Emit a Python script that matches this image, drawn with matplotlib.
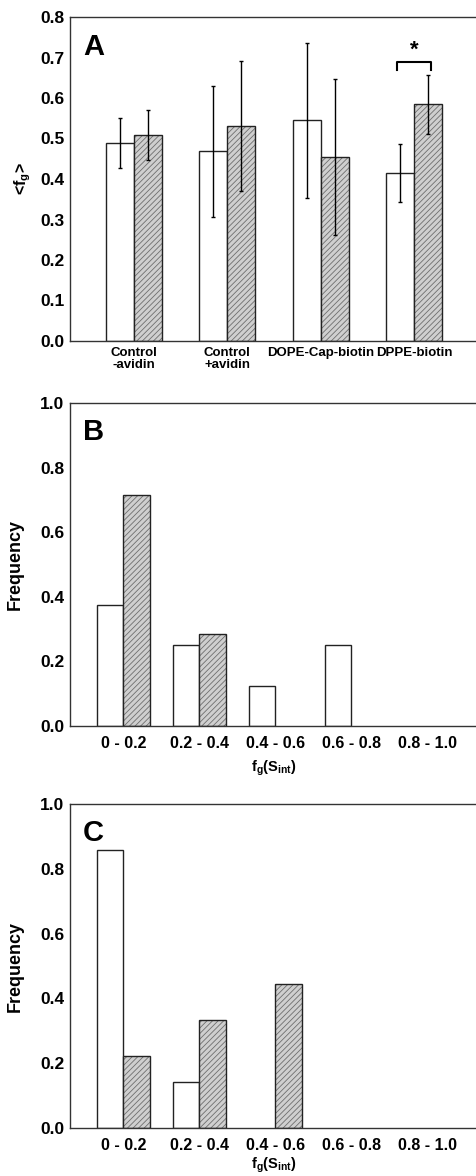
import numpy as np
import matplotlib
matplotlib.use("Agg")
import matplotlib.pyplot as plt

plt.rcParams['font.family'] = ['Liberation Sans', 'DejaVu Sans']
plt.rcParams['font.weight'] = 'bold'
plt.rcParams['axes.labelweight'] = 'bold'
plt.rcParams['mathtext.fontset'] = 'custom'
plt.rcParams['mathtext.rm'] = 'Liberation Sans:bold'
plt.rcParams['mathtext.it'] = 'Liberation Sans:bold'
plt.rcParams['mathtext.bf'] = 'Liberation Sans:bold'
plt.rcParams['hatch.linewidth'] = 0.6

# Panel A data
groups_a = ["Control\n-avidin", "Control\n+avidin", "DOPE-Cap-biotin", "DPPE-biotin"]
open_a = [0.489, 0.468, 0.545, 0.414]
open_err_a = [0.061, 0.161, 0.192, 0.072]
hatch_a = [0.509, 0.531, 0.455, 0.584]
hatch_err_a = [0.061, 0.160, 0.193, 0.073]

# Panel B / C histograms
bins = ["0 - 0.2", "0.2 - 0.4", "0.4 - 0.6", "0.6 - 0.8", "0.8 - 1.0"]
open_b = [0.375, 0.25, 0.125, 0.25, 0.0]
hatch_b = [0.714, 0.286, 0.0, 0.0, 0.0]
open_c = [0.857, 0.143, 0.0, 0.0, 0.0]
hatch_c = [0.222, 0.333, 0.444, 0.0, 0.0]

W, H = 477, 1176
fig = plt.figure(figsize=(W / 100, H / 100), dpi=100)

EDGE = '#222222'
FILL = '#cfcfcf'
HCOL = '#6e6e6e'


def make_axes(top, bottom):
    ax = fig.add_axes([70 / W, 1 - bottom / H, (W - 70) / W, (bottom - top) / H])
    for s in ['left', 'bottom', 'top']:
        ax.spines[s].set_color('#333333')
        ax.spines[s].set_linewidth(1.0)
    ax.spines['right'].set_visible(False)
    ax.tick_params(length=0, labelsize=12.5, pad=4)
    return ax


def draw_bars(ax, x, w, open_vals, hatch_vals):
    ov = np.array(open_vals)
    hv = np.array(hatch_vals)
    mo, mh = ov > 0, hv > 0  # empty bins show nothing but the baseline
    ax.bar(x[mo] - w / 2, ov[mo], w, color='white', edgecolor=EDGE, linewidth=1.0, zorder=2)
    ax.bar(x[mh] + w / 2, hv[mh], w, color=FILL, edgecolor=HCOL, hatch='//////',
           linewidth=0, zorder=2)
    ax.bar(x[mh] + w / 2, hv[mh], w, fill=False, edgecolor=EDGE, linewidth=1.0, zorder=3)


# ---- Panel A
ax = make_axes(17, 341)
x = np.arange(len(groups_a))
w = 0.30
draw_bars(ax, x, w, open_a, hatch_a)
ax.errorbar(x - w / 2, open_a, yerr=open_err_a, fmt='none', ecolor='black',
            elinewidth=1.0, capsize=1.5, capthick=1.0, zorder=4)
ax.errorbar(x + w / 2, hatch_a, yerr=hatch_err_a, fmt='none', ecolor='black',
            elinewidth=1.0, capsize=1.5, capthick=1.0, zorder=4)
ax.set_ylim(0, 0.8)
ax.set_xlim(-0.686, 3.675)
ax.set_yticks(np.arange(0, 0.81, 0.1))
ax.set_yticklabels([f"{v:.1f}" for v in np.arange(0, 0.81, 0.1)])
ax.set_xticks(x)
ax.set_xticklabels(groups_a, fontsize=9.5, linespacing=1.1)
ax.set_ylabel(r'<f$_g$>', fontsize=11.5)
ax.yaxis.set_label_coords(-0.091, 0.5)
ax.text(0.032, 0.95, 'A', transform=ax.transAxes, fontsize=21, fontweight='bold',
        va='top', ha='left')
# significance bracket over DPPE-biotin
i = 3
yb = hatch_a[i] + hatch_err_a[i] + 0.033
ax.plot([x[i] - w / 2 - 0.03, x[i] - w / 2 - 0.03, x[i] + w / 2 + 0.03, x[i] + w / 2 + 0.03],
        [yb - 0.02, yb, yb, yb - 0.02], color='black', lw=1.5, zorder=4)
ax.text(x[i], yb + 0.027, '*', ha='center', va='center', fontsize=16)

# ---- Panels B and C
for top, bottom, letter, ov, hv, lp in [(403, 726, 'B', open_b, hatch_b, 6),
                                         (804, 1128, 'C', open_c, hatch_c, 2)]:
    ax = make_axes(top, bottom)
    x = np.arange(len(bins))
    w = 0.35
    draw_bars(ax, x, w, ov, hv)
    ax.set_ylim(0, 1.0)
    ax.set_xlim(-0.702, 4.654)
    ax.set_yticks(np.arange(0, 1.01, 0.2))
    ax.set_yticklabels([f"{v:.1f}" for v in np.arange(0, 1.01, 0.2)])
    ax.set_xticks(x)
    ax.set_xticklabels(bins, fontsize=11.5)
    ax.tick_params(axis='x', pad=7)
    ax.set_ylabel('Frequency', fontsize=13)
    ax.yaxis.set_label_coords(-0.113, 0.5)
    ax.set_xlabel(r'f$_g$(S$_{int}$)', fontsize=10.5, labelpad=lp)
    ax.text(0.032, 0.955, letter, transform=ax.transAxes, fontsize=21, fontweight='bold',
            va='top', ha='left')

fig.savefig('out.png', dpi=100)
